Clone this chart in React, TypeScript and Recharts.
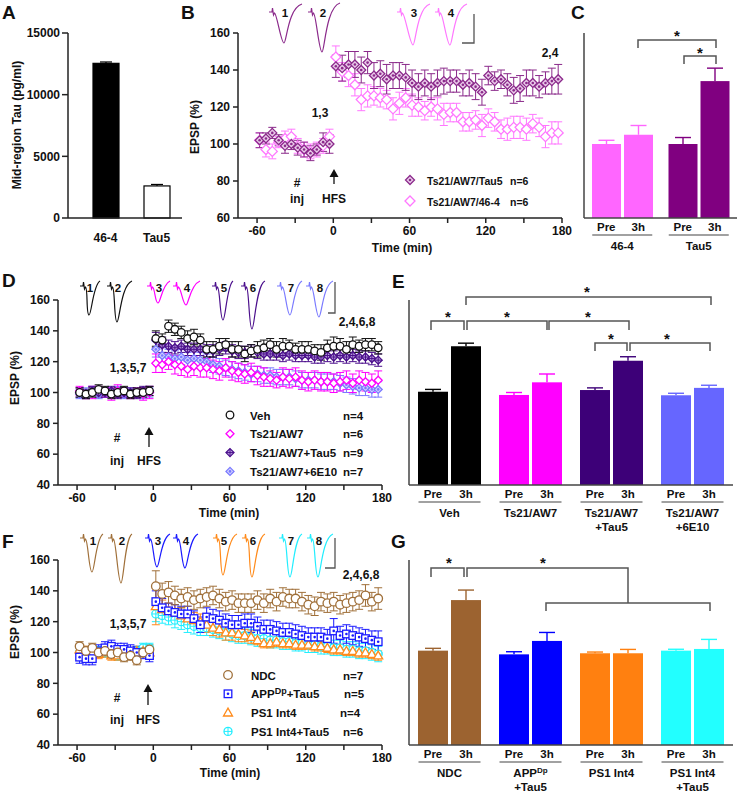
import React from 'react';
import { ScatterChart, Scatter, BarChart, Bar, XAxis, YAxis, ErrorBar } from 'recharts';

const FONT = "'Liberation Sans', Arial, Helvetica, sans-serif";
const AXIS = '#222';

// sampling times (min) shared by the LTP time courses
const timePoints = [
  -58, -53, -48, -43, -38, -33, -28, -23, -18, -13, -8, -3,
  2, 7, 12, 17, 22, 27, 32, 37, 42, 47, 52, 57, 62, 67, 72, 77, 82, 87, 92, 97,
  102, 107, 112, 117, 122, 127, 132, 137, 142, 147, 152, 157, 162, 167, 172, 177,
];
const timeTicks = [-60, -30, 0, 30, 60, 90, 120, 150, 180];
const timeLabels = [-60, 0, 60, 120, 180];

// panel B
const bTau5 = [
  102, 103, 106, 102, 99, 100, 98, 97, 95, 97, 101, 100,
  142, 141, 143, 143, 140, 144, 137, 138, 135, 137, 137, 136, 133, 131, 133, 131, 133, 134,
  134, 134, 132, 133, 131, 128, 137, 134, 135, 132, 129, 130, 133, 133, 131, 133, 134, 135,
];
const bTau5Err = [
  4, 3, 3, 3, 4, 3, 4, 4, 4, 3, 5, 5,
  6, 7, 7, 7, 7, 6, 7, 7, 8, 7, 7, 7, 7, 7, 7, 7, 7, 7,
  6, 6, 6, 7, 7, 7, 5, 5, 5, 6, 7, 7, 7, 7, 6, 6, 7, 8,
];
const b464 = [
  102, 97, 96, 101, 103, 104, 99, 97, 96, 97, 99, 104,
  147, 139, 137, 132, 124, 126, 126, 125, 124, 119, 122, 125, 121, 120, 118, 120, 119, 116,
  117, 117, 112, 112, 113, 110, 114, 112, 108, 108, 109, 109, 108, 111, 109, 104, 106, 106,
];
const b464Err = [
  4, 4, 4, 3, 4, 4, 4, 4, 4, 4, 4, 4,
  6, 5, 6, 6, 6, 6, 5, 5, 5, 6, 6, 5, 6, 5, 5, 5, 6, 6,
  5, 5, 5, 5, 5, 6, 5, 5, 5, 6, 6, 6, 6, 5, 5, 6, 6, 6,
];

// panel D
const dVeh = [
  100, 99, 100, 102, 101, 99, 100, 101, 99, 100, 100, 101,
  135, 134, 143, 141, 139, 135, 136, 134, 128, 128, 130, 131, 128, 128, 125, 127, 128, 129,
  131, 128, 130, 130, 128, 128, 128, 127, 126, 129, 130, 130, 128, 131, 130, 131, 131, 129,
];
const dVehErr = [
  3, 3, 3, 3, 3, 3, 3, 3, 3, 3, 3, 3,
  5, 4, 4, 4, 4, 5, 5, 4, 5, 5, 5, 4, 5, 5, 5, 4, 5, 5,
  4, 5, 5, 4, 4, 5, 5, 4, 5, 5, 6, 5, 5, 5, 4, 4, 4, 4,
];
const dTs21 = [
  101, 99, 100, 101, 100, 99, 101, 100, 99, 100, 99, 100,
  119, 118, 120, 118, 117, 115, 117, 116, 116, 115, 114, 116, 114, 113, 112, 113, 111, 110,
  109, 108, 110, 109, 110, 108, 107, 108, 107, 107, 106, 107, 108, 106, 108, 107, 106, 108,
];
const dTs21Err = [
  3, 3, 4, 3, 3, 4, 4, 3, 3, 3, 4, 4,
  6, 5, 5, 6, 6, 5, 6, 6, 6, 6, 6, 6, 6, 6, 6, 6, 6, 6,
  5, 5, 6, 6, 6, 6, 6, 6, 6, 6, 6, 6, 6, 6, 6, 6, 6, 6,
];
const dTau5 = [
  100, 99, 101, 100, 100, 101, 99, 100, 100, 99, 101, 101,
  134, 131, 130, 129, 130, 128, 128, 128, 127, 127, 128, 129, 127, 126, 126, 127, 126, 125,
  125, 125, 124, 125, 124, 124, 124, 123, 123, 124, 123, 124, 123, 124, 123, 123, 122, 121,
];
const dTau5Err = [
  3, 3, 3, 3, 3, 3, 3, 3, 3, 3, 3, 3,
  5, 5, 4, 4, 4, 4, 4, 4, 4, 4, 4, 4, 4, 4, 4, 4, 4, 4,
  4, 4, 4, 4, 4, 4, 4, 4, 4, 4, 4, 4, 4, 4, 4, 4, 4, 4,
];
const d6E10 = [
  99, 100, 101, 99, 100, 100, 101, 99, 100, 100, 99, 100,
  128, 124, 123, 122, 123, 121, 122, 121, 120, 118, 117, 116, 115, 114, 113, 112, 112, 111,
  111, 110, 110, 110, 109, 108, 108, 108, 107, 107, 107, 106, 105, 104, 103, 103, 102, 102,
];
const d6E10Err = [
  3, 3, 3, 3, 3, 3, 3, 3, 3, 3, 3, 3,
  5, 5, 5, 5, 5, 5, 5, 5, 5, 5, 5, 5, 5, 5, 5, 5, 5, 5,
  5, 5, 5, 5, 5, 5, 5, 5, 5, 5, 5, 5, 5, 5, 5, 5, 5, 5,
];

// panel F
const fNdc = [
  104, 101, 103, 100, 101, 99, 100, 97, 98, 95, 100, 102,
  143, 138, 139, 137, 135, 136, 134, 135, 136, 137, 135, 133, 134, 132, 132, 132, 134, 132,
  135, 133, 136, 135, 135, 133, 131, 130, 133, 132, 133, 131, 132, 133, 134, 137, 133, 135,
];
const fNdcErr = [
  3, 3, 3, 3, 3, 3, 3, 3, 3, 3, 3, 3,
  10, 7, 7, 6, 6, 6, 6, 6, 6, 6, 6, 6, 6, 6, 6, 6, 6, 6,
  6, 6, 6, 6, 6, 6, 6, 6, 6, 6, 6, 6, 6, 6, 6, 7, 6, 7,
];
const fApp = [
  97, 96, 96, 101, 103, 104, 102, 102, 101, 100, 100, 98,
  133, 129, 127, 126, 125, 125, 122, 118, 123, 122, 121, 119, 118, 118, 119, 119, 117, 115,
  115, 114, 113, 113, 112, 111, 110, 110, 110, 109, 114, 111, 112, 111, 110, 109, 108, 107,
];
const fAppErr = [
  4, 4, 4, 4, 4, 4, 4, 4, 4, 4, 4, 4,
  7, 6, 5, 5, 5, 5, 5, 5, 6, 6, 6, 6, 6, 6, 6, 6, 6, 6,
  6, 6, 6, 6, 6, 6, 6, 6, 6, 6, 8, 6, 6, 6, 6, 6, 6, 7,
];
const fPs1 = [
  102, 101, 100, 99, 100, 98, 98, 99, 100, 101, 101, 100,
  130, 128, 127, 126, 124, 122, 121, 120, 118, 116, 115, 113, 113, 112, 111, 110, 108, 106,
  106, 107, 106, 106, 105, 105, 105, 104, 104, 103, 102, 102, 101, 101, 100, 100, 99, 98,
];
const fPs1Err = [
  3, 3, 3, 3, 3, 3, 3, 3, 3, 3, 3, 3,
  12, 6, 5, 5, 5, 5, 5, 5, 5, 5, 5, 5, 5, 5, 4, 4, 3, 3,
  3, 3, 3, 3, 3, 3, 3, 3, 3, 3, 3, 3, 3, 3, 3, 3, 3, 3,
];
const fPs1Tau5 = [
  100, 99, 100, 101, 100, 99, 98, 99, 100, 101, 103, 103,
  125, 124, 123, 121, 120, 118, 117, 116, 116, 115, 114, 113, 112, 111, 111, 110, 109, 109,
  108, 108, 107, 107, 106, 106, 105, 105, 104, 104, 103, 103, 102, 102, 101, 101, 100, 99,
];
const fPs1Tau5Err = [
  3, 3, 3, 3, 3, 3, 3, 3, 3, 3, 3, 3,
  5, 5, 5, 5, 5, 5, 5, 5, 5, 5, 5, 5, 5, 5, 5, 5, 5, 5,
  5, 5, 5, 5, 5, 5, 5, 5, 5, 5, 5, 5, 5, 5, 5, 5, 5, 5,
];

// panel A
const aGroups = ['46-4', 'Tau5'];
const aValues = [12540, 2600];
const aErr = [110, 120];

// panel C
const cGroups = [['46-4'], ['Tau5']];
const cPre = [100, 100];
const cPreErr = [2, 3.5];
const cPost = [105, 134];
const cPostErr = [5, 7];

// panel E
const eGroups = [['Veh'], ['Ts21/AW7'], ['Ts21/AW7', '+Tau5'], ['Ts21/AW7', '+6E10']];
const ePre = [100.5, 98.4, 101.6, 98.2];
const ePreErr = [1.5, 1.6, 1.4, 1.3];
const ePost = [130, 106.6, 120.6, 103];
const ePostErr = [2, 5.4, 2.6, 1.7];

// panel G
const gGroups = [['NDC'], ['APP^Dp', '+Tau5'], ['PS1 Int4'], ['PS1 Int4', '+Tau5']];
const gPre = [101.2, 98.8, 99.5, 101.2];
const gPreErr = [1.5, 1.7, 0.8, 0.9];
const gPost = [134, 107.5, 99.5, 102.3];
const gPostErr = [6.5, 5.5, 2.5, 6.2];

const pts = (vals: number[], errs: number[]) =>
  timePoints.map((t, i) => ({ t, v: vals[i], e: errs[i] }));

type Kind = 'circle' | 'diamond' | 'diamondDot' | 'diamondCross' | 'squareDot' | 'triangle' | 'circleCross';

function Marker({ kind, color, cx, cy, r, fill = '#fff' }: { kind: Kind; color: string; cx: number; cy: number; r: number; fill?: string }) {
  const sw = 1.3;
  const dia = `${cx},${cy - r} ${cx + r},${cy} ${cx},${cy + r} ${cx - r},${cy}`;
  const cross = (k: number) => (
    <>
      <line x1={cx - k} x2={cx + k} y1={cy} y2={cy} stroke={color} strokeWidth={1} />
      <line x1={cx} x2={cx} y1={cy - k} y2={cy + k} stroke={color} strokeWidth={1} />
    </>
  );
  const dot = <circle cx={cx} cy={cy} r={1.3} fill={color} />;
  switch (kind) {
    case 'circle':
      return <circle cx={cx} cy={cy} r={r} fill={fill} stroke={color} strokeWidth={sw} />;
    case 'diamond':
      return <polygon points={dia} fill={fill} stroke={color} strokeWidth={sw} />;
    case 'diamondDot':
      return <g><polygon points={dia} fill={fill} stroke={color} strokeWidth={sw} />{dot}</g>;
    case 'diamondCross':
      return <g><polygon points={dia} fill={fill} stroke={color} strokeWidth={sw} />{cross(r)}</g>;
    case 'squareDot':
      return <g><rect x={cx - r} y={cy - r} width={2 * r} height={2 * r} fill={fill} stroke={color} strokeWidth={sw} />{dot}</g>;
    case 'triangle':
      return <polygon points={`${cx},${cy - r} ${cx + r},${cy + r * 0.75} ${cx - r},${cy + r * 0.75}`} fill={fill} stroke={color} strokeWidth={sw} />;
    case 'circleCross':
      return <g><circle cx={cx} cy={cy} r={r} fill={fill} stroke={color} strokeWidth={sw} />{cross(r)}</g>;
  }
  return null;
}

type Series = { name: string; data: { t: number; v: number; e: number }[]; kind: Kind; color: string; r: number; fill?: string };

const tickFont = { fontSize: 12, fontWeight: 700, fill: '#111', fontFamily: FONT };

function LtpChart({ left, top, yDomain, yTicks, series }: { left: number; top: number; yDomain: [number, number]; yTicks: number[]; series: Series[] }) {
  return (
    <div style={{ position: 'absolute', left, top }}>
      <ScatterChart width={400} height={240} margin={{ top: 15, right: 18, bottom: 10, left: 0 }}>
        <XAxis type="number" dataKey="t" domain={[-75, 180]} ticks={timeTicks} interval={0}
          tickFormatter={(v: number) => (timeLabels.includes(v) ? String(v) : '')}
          tick={tickFont} tickSize={5} tickMargin={3} stroke={AXIS} strokeWidth={1.5} height={30} />
        <YAxis type="number" dataKey="v" domain={yDomain} ticks={yTicks} interval={0} width={58}
          tick={tickFont} tickSize={5} tickMargin={3} stroke={AXIS} strokeWidth={1.5} />
        {series.map((s) => (
          <Scatter key={s.name} name={s.name} data={s.data} isAnimationActive={false}
            shape={(p: any) => <Marker kind={s.kind} color={s.color} cx={p.cx} cy={p.cy} r={s.r} fill={s.fill} />}>
            <ErrorBar dataKey="e" direction="y" width={4} stroke={s.color} strokeWidth={1} />
          </Scatter>
        ))}
      </ScatterChart>
    </div>
  );
}

function rich(s: string, supSize = 8) {
  const m = s.match(/^(.*?)\^([A-Za-z]+)(.*)$/);
  if (!m) return s;
  return (
    <>
      <tspan>{m[1]}</tspan>
      <tspan fontSize={supSize} dy={-4}>{m[2]}</tspan>
      {m[3] ? <tspan dy={4}>{m[3]}</tspan> : null}
    </>
  );
}

const barShape = (key: 'pre' | 'post', base: number, cap: number) => (p: any) => {
  const { x, y, width, height, payload } = p;
  const val = payload[key];
  const err = payload[key + 'Err'];
  const per = height / (val - base);
  const ey = y - err * per;
  const cx = x + width / 2;
  return (
    <g>
      <line x1={cx} x2={cx} y1={y} y2={ey} stroke={payload.color} strokeWidth={1.4} />
      <line x1={cx - cap} x2={cx + cap} y1={ey} y2={ey} stroke={payload.color} strokeWidth={1.4} />
      <rect x={x} y={y} width={width} height={height} fill={payload.color} stroke={payload.edge} strokeWidth={payload.edge === 'none' ? 0 : 1.2} />
    </g>
  );
};

function PairBarChart({ left, top, width, height, right, xHeight, yDomain, yTicks, groups, pre, preErr, post, postErr, colors, barSize, half, under }: any) {
  const data = groups.map((g: string[], i: number) => ({
    g: g.join(' '), pre: pre[i], preErr: preErr[i], post: post[i], postErr: postErr[i], color: colors[i], edge: 'none',
  }));
  const tick = (p: any) => {
    const { x, y, index } = p;
    const lines: string[] = groups[index] || [];
    return (
      <g fontFamily={FONT} fontWeight={700} fontSize={11.5} fill="#111">
        <text x={x - half} y={y + 13} textAnchor="middle">Pre</text>
        <text x={x + half} y={y + 13} textAnchor="middle">3h</text>
        <line x1={x - under} x2={x + under} y1={y + 17} y2={y + 17} stroke="#444" strokeWidth={1.2} />
        {lines.map((l, k) => (
          <text key={k} x={x} y={y + 32 + k * 14} textAnchor="middle">{rich(l)}</text>
        ))}
      </g>
    );
  };
  return (
    <div style={{ position: 'absolute', left, top }}>
      <BarChart width={width} height={height} data={data} barSize={barSize} barGap={3} barCategoryGap={0}
        margin={{ top: 15, right, bottom: 0, left: 0 }}>
        <XAxis dataKey="g" interval={0} tick={tick} tickLine={false} tickSize={0} tickMargin={0}
          height={xHeight} stroke="#444" strokeWidth={1.5} />
        <YAxis type="number" domain={yDomain} ticks={yTicks} interval={0} width={10} tick={false}
          tickSize={5} stroke="#444" strokeWidth={1.5} />
        <Bar dataKey="pre" isAnimationActive={false} shape={barShape('pre', yDomain[0], 8)} />
        <Bar dataKey="post" isAnimationActive={false} shape={barShape('post', yDomain[0], 8)} />
      </BarChart>
    </div>
  );
}

function ChartA() {
  const data = aGroups.map((g, i) => ({
    g, pre: aValues[i], preErr: aErr[i], color: i === 0 ? '#000' : '#fff', edge: '#000',
  }));
  const shape = (p: any) => {
    const { x, y, width, height, payload } = p;
    const per = height / payload.pre;
    const ey = y - payload.preErr * per;
    const cx = x + width / 2;
    return (
      <g>
        <line x1={cx} x2={cx} y1={y} y2={ey} stroke="#000" strokeWidth={1.2} />
        <line x1={cx - 6} x2={cx + 6} y1={ey} y2={ey} stroke="#000" strokeWidth={1.2} />
        <rect x={x} y={y} width={width} height={height} fill={payload.color} stroke="#000" strokeWidth={1.2} />
      </g>
    );
  };
  return (
    <div style={{ position: 'absolute', left: 0, top: 18 }}>
      <BarChart width={200} height={240} data={data} barSize={26} barCategoryGap={0}
        margin={{ top: 15, right: 18, bottom: 10, left: 0 }}>
        <XAxis dataKey="g" interval={0} padding={{ left: 12, right: 0 }} tick={tickFont} tickLine={false}
          tickSize={0} tickMargin={15} stroke={AXIS} strokeWidth={1.5} height={30} />
        <YAxis type="number" domain={[0, 15000]} ticks={[0, 5000, 10000, 15000]} interval={0} width={68}
          tick={tickFont} tickSize={6} tickMargin={2} stroke={AXIS} strokeWidth={1.5} />
        <Bar dataKey="pre" isAnimationActive={false} shape={shape} />
      </BarChart>
    </div>
  );
}

// ---------- decorations: example traces, annotations, legends, significance brackets ----------
type Trace = [number, number, number, number, number, number, string, string, number];
// x0, y0, xMin, yMin, xEnd, yEnd, colour, label, label baseline
const traces: Trace[] = [
  [269, 12, 284, 43, 302, 4, '#8b2a8b', '1', 17],
  [308, 12, 322, 52, 340, 3, '#8b2a8b', '2', 17],
  [397, 12, 413, 45, 430, 4, '#ff77ff', '3', 17],
  [435, 12, 450, 45, 467, 4, '#ff77ff', '4', 17],
  [80, 286, 89, 315, 100, 281, '#111', '1', 292],
  [107, 286, 117, 322, 132, 281, '#111', '2', 292],
  [147, 286, 158, 303, 170, 281, '#ff00ff', '3', 292],
  [173, 286, 186, 305, 200, 281, '#ff00ff', '4', 292],
  [212, 286, 223, 320, 233, 281, '#4b0f8c', '5', 292],
  [241, 286, 252, 329, 265, 281, '#4b0f8c', '6', 292],
  [277, 286, 290, 315, 302, 281, '#7a7aff', '7', 292],
  [306, 286, 319, 317, 333, 281, '#7a7aff', '8', 292],
  [80, 538, 92, 572, 103, 534, '#a0703a', '1', 545],
  [108, 538, 121, 583, 132, 534, '#a0703a', '2', 545],
  [145, 538, 157, 567, 170, 534, '#1a1aff', '3', 545],
  [173, 538, 185, 568, 198, 534, '#1a1aff', '4', 545],
  [213, 538, 223, 575, 237, 534, '#ff8a1a', '5', 545],
  [242, 538, 252, 577, 265, 534, '#ff8a1a', '6', 545],
  [279, 538, 290, 577, 302, 534, '#22eeff', '7', 545],
  [307, 538, 318, 577, 333, 534, '#22eeff', '8', 545],
];

const tracePath = (t: Trace) => {
  const [x0, y0, xm, ym, x1, y1] = t;
  return `M${x0},${y0} L${x0 + 3},${y0} L${x0 + 3.5},${y0 - 4} L${x0 + 4.5},${y0 + 3} L${x0 + 5.5},${y0 + 1} ` +
    `C${x0 + 8},${y0 + 2} ${xm - 3},${ym} ${xm},${ym} C${xm + 2.5},${ym} ${xm + 4},${y1 + 4} ${x1},${y1}`;
};

const T = ({ x, y, s, size = 12, anchor = 'middle' }: { x: number; y: number; s: any; size?: number; anchor?: string }) => (
  <text x={x} y={y} fontSize={size} textAnchor={anchor as any} fontWeight={700} fontFamily={FONT} fill="#111">{s}</text>
);

const Bracket = ({ x1, x2, y, d = 8 }: { x1: number; x2: number; y: number; d?: number }) => (
  <path d={`M${x1},${y + d} L${x1},${y} L${x2},${y} L${x2},${y + d}`} fill="none" stroke="#555" strokeWidth={1.5} />
);
const Star = ({ x, y }: { x: number; y: number }) => <T x={x} y={y + 8} s="*" size={15} />;

const Arrow = ({ x, tip, bottom }: { x: number; tip: number; bottom: number }) => (
  <g>
    <line x1={x} x2={x} y1={tip + 6} y2={bottom} stroke="#111" strokeWidth={1.3} />
    <polygon points={`${x},${tip} ${x + 4.5},${tip + 8} ${x - 4.5},${tip + 8}`} fill="#111" />
  </g>
);

const Legend = ({ rows, mx, tx, nx, y0, dy, size }: any) => (
  <g>
    {rows.map((r: any, i: number) => (
      <g key={i}>
        <Marker kind={r.kind} color={r.color} cx={mx} cy={y0 + i * dy} r={r.r} fill={r.fill} />
        <T x={tx} y={y0 + i * dy + 4.5} s={rich(r.label, 9)} size={size} anchor="start" />
        <T x={r.nx ?? nx} y={y0 + i * dy + 4.5} s={r.n} size={size} anchor="start" />
      </g>
    ))}
  </g>
);

function Overlay() {
  return (
    <svg width={747} height={797} style={{ position: 'absolute', left: 0, top: 0, pointerEvents: 'none' }}>
      {/* panel letters */}
      <T x={2} y={19} s="A" size={19} anchor="start" />
      <T x={181} y={19} s="B" size={19} anchor="start" />
      <T x={571} y={19} s="C" size={19} anchor="start" />
      <T x={2} y={287} s="D" size={19} anchor="start" />
      <T x={392} y={288} s="E" size={19} anchor="start" />
      <T x={2} y={548} s="F" size={19} anchor="start" />
      <T x={391} y={548} s="G" size={19} anchor="start" />

      {/* axis titles */}
      <g transform="translate(21,125) rotate(-90)"><T x={0} y={0} s="Mid-region Tau (pg/ml)" /></g>
      <g transform="translate(199,127) rotate(-90)"><T x={0} y={0} s="EPSP (%)" /></g>
      <g transform="translate(19,378) rotate(-90)"><T x={0} y={0} s="EPSP (%)" /></g>
      <g transform="translate(19,632) rotate(-90)"><T x={0} y={0} s="EPSP (%)" /></g>
      <T x={402} y={252} s="Time (min)" />
      <T x={229} y={517} s="Time (min)" />
      <T x={230} y={777} s="Time (min)" />

      {/* example traces */}
      {traces.map((t, i) => (
        <g key={i}>
          <path d={tracePath(t)} fill="none" stroke={t[6]} strokeWidth={1.2} />
          <T x={t[2] + 1} y={t[8]} s={t[7]} size={11.5} />
        </g>
      ))}
      <path d="M474,14 L474,43 L462,43" fill="none" stroke="#555" strokeWidth={1.3} />
      <path d="M335,282 L335,313 L328,313" fill="none" stroke="#555" strokeWidth={1.3} />
      <path d="M335,538 L335,568 L325,568" fill="none" stroke="#555" strokeWidth={1.3} />

      {/* panel B annotations */}
      <T x={320} y={117} s="1,3" />
      <T x={550} y={57} s="2,4" />
      <T x={297} y={187} s="#" />
      <T x={297} y={203} s="inj" />
      <Arrow x={334} tip={169} bottom={184} />
      <T x={334} y={203} s="HFS" />
      <Legend mx={410} tx={427} nx={510} y0={180} dy={21} size={10.5} rows={[
        { kind: 'diamondDot', color: '#8b2a8b', r: 4.5, fill: '#e9c9e9', label: 'Ts21/AW7/Tau5', n: 'n=6' },
        { kind: 'diamond', color: '#ff77ff', r: 5, label: 'Ts21/AW7/46-4', n: 'n=6' },
      ]} />

      {/* panel D annotations */}
      <T x={128} y={372} s="1,3,5,7" />
      <T x={357} y={326} s="2,4,6,8" />
      <T x={117} y={442} s="#" />
      <T x={117} y={465} s="inj" />
      <Arrow x={149} tip={427} bottom={447} />
      <T x={149} y={465} s="HFS" />
      <Legend mx={230} tx={250} nx={343} y0={415} dy={18.8} size={11.5} rows={[
        { kind: 'circle', color: '#111', r: 3.8, label: 'Veh', n: 'n=4' },
        { kind: 'diamond', color: '#ff00ff', r: 4, label: 'Ts21/AW7', n: 'n=6' },
        { kind: 'diamondCross', color: '#4b0f8c', r: 4, fill: '#b9a0dd', label: 'Ts21/AW7+Tau5', n: 'n=9' },
        { kind: 'diamondDot', color: '#7a7aff', r: 4, fill: '#d0d0ff', label: 'Ts21/AW7+6E10', n: 'n=7' },
      ]} />

      {/* panel F annotations */}
      <T x={128} y={628} s="1,3,5,7" />
      <T x={361} y={579} s="2,4,6,8" />
      <T x={117} y={702} s="#" />
      <T x={117} y={724} s="inj" />
      <Arrow x={148} tip={684} bottom={705} />
      <T x={148} y={724} s="HFS" />
      <Legend mx={228} tx={251} nx={343} y0={675} dy={18.8} size={11.5} rows={[
        { kind: 'circle', color: '#a0703a', r: 4.3, label: 'NDC', n: 'n=7' },
        { kind: 'squareDot', color: '#1a1aff', r: 3.8, label: 'APP^Dp+Tau5', n: 'n=5', nx: 344 },
        { kind: 'triangle', color: '#ff8a1a', r: 4.5, label: 'PS1 Int4', n: 'n=4', nx: 340 },
        { kind: 'circleCross', color: '#22eeff', r: 4, label: 'PS1 Int4+Tau5', n: 'n=6' },
      ]} />

      {/* panel C brackets */}
      <Bracket x1={638} x2={716} y={40} />
      <Star x={677} y={33} />
      <Bracket x1={684} x2={716} y={56} />
      <Star x={700} y={50} />

      {/* panel E brackets */}
      <Bracket x1={466} x2={711} y={297} />
      <Star x={587} y={289} />
      <Bracket x1={431} x2={464} y={321} d={9} />
      <Star x={448} y={314} />
      <Bracket x1={467} x2={547} y={321} d={9} />
      <Star x={507} y={314} />
      <Bracket x1={549} x2={629} y={321} d={9} />
      <Star x={588} y={314} />
      <Bracket x1={595} x2={627} y={343} />
      <Star x={611} y={336} />
      <Bracket x1={630} x2={710} y={343} />
      <Star x={667} y={336} />

      {/* panel G brackets */}
      <Bracket x1={431} x2={464} y={568} d={9} />
      <Star x={449} y={560} />
      <path d="M467,577 L467,568 L628,568 L628,603" fill="none" stroke="#555" strokeWidth={1.5} />
      <Star x={543} y={560} />
      <Bracket x1={546} x2={710} y={603} />
    </svg>
  );
}

export default function App() {
  const bSeries: Series[] = [
    { name: 'Ts21/AW7/46-4', data: pts(b464, b464Err), kind: 'diamond', color: '#ff77ff', r: 5 },
    { name: 'Ts21/AW7/Tau5', data: pts(bTau5, bTau5Err), kind: 'diamondDot', color: '#8b2a8b', r: 4.5, fill: '#e9c9e9' },
  ];
  const dSeries: Series[] = [
    { name: 'Ts21/AW7+6E10', data: pts(d6E10, d6E10Err), kind: 'diamondDot', color: '#7a7aff', r: 4, fill: '#d0d0ff' },
    { name: 'Ts21/AW7', data: pts(dTs21, dTs21Err), kind: 'diamond', color: '#ff00ff', r: 4 },
    { name: 'Ts21/AW7+Tau5', data: pts(dTau5, dTau5Err), kind: 'diamondCross', color: '#4b0f8c', r: 4, fill: '#b9a0dd' },
    { name: 'Veh', data: pts(dVeh, dVehErr), kind: 'circle', color: '#111', r: 3.8 },
  ];
  const fSeries: Series[] = [
    { name: 'PS1 Int4+Tau5', data: pts(fPs1Tau5, fPs1Tau5Err), kind: 'circleCross', color: '#22eeff', r: 4 },
    { name: 'PS1 Int4', data: pts(fPs1, fPs1Err), kind: 'triangle', color: '#ff8a1a', r: 4.5 },
    { name: 'APP+Tau5', data: pts(fApp, fAppErr), kind: 'squareDot', color: '#1a1aff', r: 3.8 },
    { name: 'NDC', data: pts(fNdc, fNdcErr), kind: 'circle', color: '#a0703a', r: 4.3 },
  ];
  return (
    <div style={{ position: 'absolute', left: 0, top: 0, width: 747, height: 797, background: '#fff', overflow: 'hidden', fontFamily: FONT }}>
      <ChartA />
      <LtpChart left={180} top={18} yDomain={[60, 160]} yTicks={[60, 80, 100, 120, 140, 160]} series={bSeries} />
      <PairBarChart left={574} top={18} width={170} height={250} right={7} xHeight={50}
        yDomain={[60, 160]} yTicks={[60, 80, 100, 120, 140, 160]} groups={cGroups}
        pre={cPre} preErr={cPreErr} post={cPost} postErr={cPostErr} colors={['#ff66ff', '#800080']}
        barSize={29} half={16} under={30} />
      <LtpChart left={0} top={285} yDomain={[40, 160]} yTicks={[40, 60, 80, 100, 120, 140, 160]} series={dSeries} />
      <PairBarChart left={399} top={285} width={348} height={260} right={14} xHeight={60}
        yDomain={[40, 160]} yTicks={[40, 60, 80, 100, 120, 140, 160]} groups={eGroups}
        pre={ePre} preErr={ePreErr} post={ePost} postErr={ePostErr} colors={['#000000', '#ff00ff', '#3d0078', '#6666ff']}
        barSize={30} half={16.5} under={31} />
      <LtpChart left={0} top={545} yDomain={[40, 160]} yTicks={[40, 60, 80, 100, 120, 140, 160]} series={fSeries} />
      <PairBarChart left={399} top={545} width={348} height={252} right={14} xHeight={52}
        yDomain={[40, 160]} yTicks={[40, 60, 80, 100, 120, 140, 160]} groups={gGroups}
        pre={gPre} preErr={gPreErr} post={gPost} postErr={gPostErr} colors={['#9c6330', '#0000ff', '#ff8010', '#22ffff']}
        barSize={30} half={16.5} under={31} />
      <Overlay />
    </div>
  );
}
